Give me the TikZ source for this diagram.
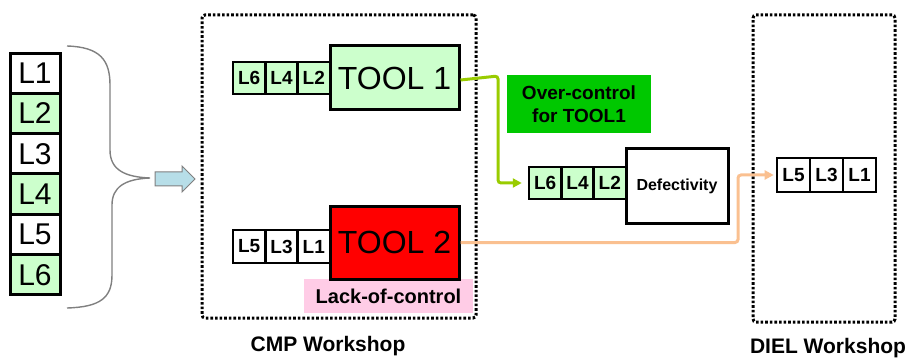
\documentclass[tikz,border=0pt]{standalone}
\usepackage{fontspec}
\setmainfont{Liberation Sans}
\usetikzlibrary{arrows.meta}
\definecolor{lgreen}{HTML}{CCFFCC}
\definecolor{toolred}{HTML}{FF0000}
\definecolor{lackpink}{HTML}{FFCCE6}
\definecolor{overgreen}{HTML}{00C800}
\definecolor{glink}{HTML}{99CC00}
\definecolor{olink}{HTML}{FAC090}
\definecolor{arrowblue}{HTML}{B7DEE8}
\definecolor{bracegray}{HTML}{808080}
\begin{document}
\begin{tikzpicture}[x=1pt,y=-1pt,
  stackbox/.style={draw, line width=3pt, minimum width=50pt, minimum height=40.3pt, inner sep=0pt, font=\fontsize{30}{30}\selectfont},
  lbox/.style={draw, line width=2.6pt, minimum width=32.3pt, minimum height=32pt, inner sep=0pt, font=\bfseries\fontsize{19}{19}\selectfont},
  toolbox/.style={draw, line width=3pt, inner sep=0pt, font=\fontsize{32}{32}\selectfont},
  dotbox/.style={draw, line width=3pt, dash pattern=on 2.6pt off 2pt, rounded corners=3pt, inner sep=0pt},
  tag/.style={inner sep=0pt, font=\bfseries\fontsize{19}{23}\selectfont, align=center},
  wslabel/.style={font=\bfseries\fontsize{21}{21}\selectfont},
  glinkstyle/.style={draw=glink, line width=3pt, rounded corners=3pt, -{Triangle[length=9pt,width=9pt]}},
  olinkstyle/.style={draw=olink, line width=3pt, rounded corners=3pt, -{Triangle[length=9pt,width=9pt]}}
]
\useasboundingbox (0,0) rectangle (912,358);

% workshop frames
\node[dotbox, minimum width=274pt, minimum height=303pt] (cmp) at (339,166.5) {};
\node[dotbox, minimum width=142pt, minimum height=307pt] (diel) at (824,168.5) {};
\node[wslabel] (cmplab) at (328,346) {CMP Workshop};
\node[wslabel] (diellab) at (828,348) {DIEL Workshop};

% left stack
\node[stackbox, fill=white]  (s1) at (35,73.2)  {L1};
\node[stackbox, fill=lgreen] (s2) at (35,113.5) {L2};
\node[stackbox, fill=white]  (s3) at (35,153.8) {L3};
\node[stackbox, fill=lgreen] (s4) at (35,194.1) {L4};
\node[stackbox, fill=white]  (s5) at (35,234.4) {L5};
\node[stackbox, fill=lgreen] (s6) at (35,274.7) {L6};

% brace
\draw[bracegray, line width=1.4pt] (67,46) .. controls (100,47) and (110,60) .. (110,85)
  -- (110,150) .. controls (110,170) and (125,177) .. (150,178)
  .. controls (125,179) and (112,187) .. (112,205)
  -- (112,275) .. controls (112,298) and (100,307) .. (67,308);

% block arrow
\filldraw[fill=arrowblue, draw=bracegray, line width=1pt]
  (155,172) -- (182,172) -- (182,166) -- (195,179) -- (182,192) -- (182,186) -- (155,186) -- cycle;

% tool 1
\node[toolbox, fill=lgreen, minimum width=129pt, minimum height=64pt] (t1) at (394.5,78) {TOOL 1};
\node[lbox, fill=lgreen] (a6) at (249.2,78) {L6};
\node[lbox, fill=lgreen] (a4) at (281.5,78) {L4};
\node[lbox, fill=lgreen] (a2) at (313.8,78) {L2};

% tool 2
\node[fill=lackpink, minimum width=169pt, minimum height=34pt, inner sep=0pt] (lack) at (388.5,296) {};
\node[tag, font=\bfseries\fontsize{20}{20}\selectfont] (lacktext) at (lack.center) {Lack-of-control};
\node[toolbox, fill=toolred, minimum width=129pt, minimum height=73pt] (t2) at (394.5,242.5) {TOOL 2};
\node[lbox, fill=white, minimum height=33pt] (b5) at (249.2,246.5) {L5};
\node[lbox, fill=white, minimum height=33pt] (b3) at (281.5,246.5) {L3};
\node[lbox, fill=white, minimum height=33pt] (b1) at (313.8,246.5) {L1};

% over-control tag
\node[fill=overgreen, minimum width=144pt, minimum height=58pt, inner sep=0pt] (over) at (579,104) {};
\node[tag] (overtext) at (over.center) {Over-control\\for TOOL1};

% defectivity
\node[draw, line width=3pt, fill=white, minimum width=102pt, minimum height=74pt, inner sep=0pt,
      font=\bfseries\fontsize{16}{16}\selectfont] (def) at (677,186) {Defectivity};
\node[lbox, fill=lgreen] (c6) at (545.2,183) {L6};
\node[lbox, fill=lgreen] (c4) at (577.5,183) {L4};
\node[lbox, fill=lgreen] (c2) at (609.8,183) {L2};

% diel
\node[lbox, fill=white, minimum width=33pt, minimum height=34pt] (d5) at (793.5,175) {L5};
\node[lbox, fill=white, minimum width=33pt, minimum height=34pt] (d3) at (826.5,175) {L3};
\node[lbox, fill=white, minimum width=33pt, minimum height=34pt] (d1) at (859.5,175) {L1};

% connectors
\coordinate (g1) at (498,76);
\coordinate (o1) at (738,242.5);
\draw[glinkstyle, shorten >=6pt] ([yshift=-2pt]t1.east) -- (g1) |- (c6.west);
\draw[olinkstyle, shorten >=2pt] (t2.east) -- (o1) |- (d5.west);
\end{tikzpicture}
\end{document}
